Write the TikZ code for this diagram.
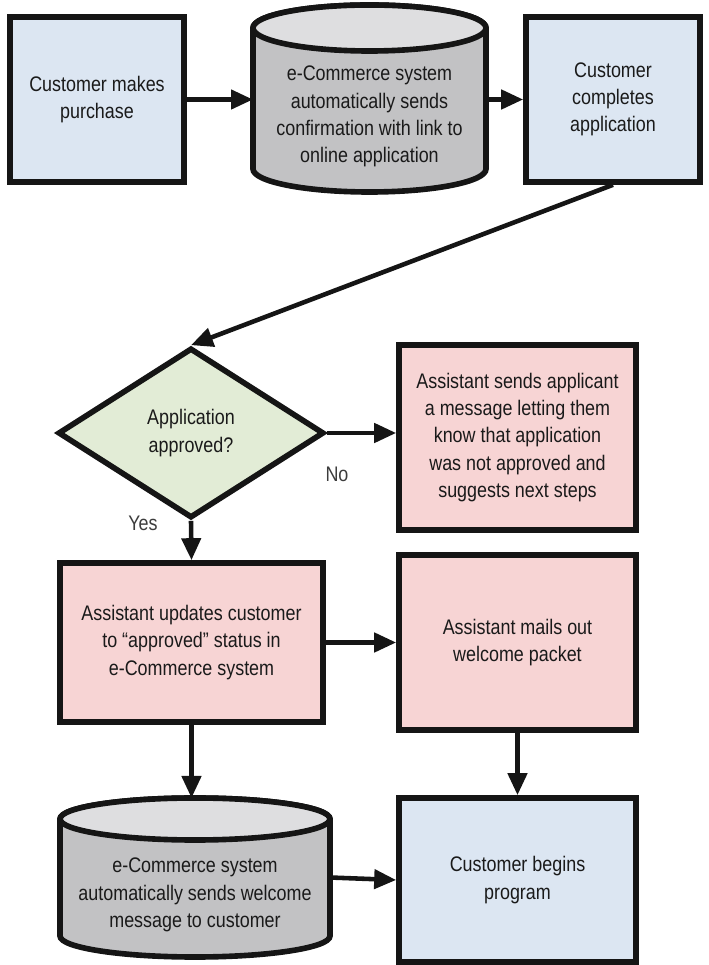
\documentclass[tikz,border=0pt]{standalone}
\usepackage{fontspec}
\setmainfont{Liberation Sans}[FakeStretch=0.85]
\usetikzlibrary{arrows.meta,shapes.geometric,calc,backgrounds}
\definecolor{boxblue}{HTML}{DCE6F2}
\definecolor{boxpink}{HTML}{F7D4D4}
\definecolor{boxgreen}{HTML}{E2ECD6}
\definecolor{cylbody}{HTML}{C2C2C4}
\definecolor{cyltop}{HTML}{DEDEE0}
\definecolor{edge}{HTML}{151515}
\definecolor{txt}{HTML}{1A1A1A}
\newcommand{\drawcyl}[2]{%
	\begin{scope}[on background layer]
		\draw[cylline,fill=cylbody] let \p1=(#1.north west),\p2=(#1.south east),\n1={(\x2-\x1)/2} in
		($(#1.north west)+(0,-#2)$) -- ($(#1.south west)+(0,#2)$)
		arc[start angle=180,end angle=360,x radius=\n1,y radius=#2]
		-- ($(#1.north east)+(0,-#2)$)
		arc[start angle=0,end angle=180,x radius=\n1,y radius=#2] -- cycle;
		\draw[cylline,fill=cyltop] let \p1=(#1.north west),\p2=(#1.south east),\n1={(\x2-\x1)/2} in
		($(#1.north)+(0,-#2)$) ellipse[x radius=\n1,y radius=#2];
	\end{scope}}
\begin{document}
\begin{tikzpicture}[>={Triangle[length=0.44cm,width=0.38cm]},line join=miter,
		font=\fontsize{12}{15.5}\selectfont,text=txt,
		block/.style={rectangle,draw=edge,line width=3.2pt,align=center,inner sep=2pt},
		custbox/.style={block,fill=boxblue,minimum width=3.48cm,minimum height=3.3cm},
		staffbox/.style={block,fill=boxpink,minimum width=4.74cm},
		decision/.style={diamond,draw=edge,line width=3.2pt,fill=boxgreen,align=center,
			inner sep=0pt,minimum width=5.32cm,minimum height=3.4cm},
		cyl/.style={rectangle,inner sep=0pt,outer sep=0pt},
		cylline/.style={draw=edge,line width=3.2pt},
		flow/.style={->,draw=edge,line width=2.6pt},
		lbl/.style={text=txt!85,font=\fontsize{12}{14}\selectfont}]
	\useasboundingbox (0,0) rectangle (14.18,19.3);
	\node[custbox] (buy) at (1.94,17.31) {Customer makes\\purchase};
	\node[cyl,minimum width=4.66cm,minimum height=3.74cm] (sys1) at (7.39,17.33)
		{\parbox[c][3.74cm][c]{4.6cm}{\centering\vspace*{0.72cm}e-Commerce system\\automatically sends\\confirmation with link to\\online application}};
	\node[custbox] (apply) at (12.26,17.31) {Customer\\completes\\application};
	\node[decision] (dec) at (3.82,10.64) {Application\\approved?};
	\node[staffbox,minimum height=3.7cm] (reject) at (10.35,10.55)
		{Assistant sends applicant\\a message letting them\\know that application\\was not approved and\\suggests next steps};
	\node[staffbox,minimum width=5.26cm,minimum height=3.18cm] (update) at (3.83,6.45)
		{Assistant updates customer\\to ``approved'' status in\\e-Commerce system};
	\node[staffbox,minimum height=3.5cm] (mail) at (10.35,6.45) {Assistant mails out\\welcome packet};
	\node[cyl,minimum width=5.4cm,minimum height=3.18cm] (sys2) at (3.90,1.75)
		{\parbox[c][3.18cm][c]{5.3cm}{\centering\vspace*{0.7cm}e-Commerce system\\automatically sends welcome\\message to customer}};
	\node[custbox,minimum width=4.74cm,minimum height=3.28cm] (begin) at (10.35,1.70) {Customer begins\\program};
	\drawcyl{sys1}{0.46cm}
	\drawcyl{sys2}{0.42cm}
	\node[lbl] (nolbl) at (6.74,9.82) {No};
	\node[lbl] (yeslbl) at (2.86,8.84) {Yes};
	\draw[flow] (buy.east) -- (buy.east -| sys1.west);
	\draw[flow] (sys1.east |- apply.west) -- (apply.west);
	\draw[flow] (apply.south) -- (dec.north);
	\draw[flow] (dec.east) -- (dec.east -| reject.west);
	\draw[flow] (dec.south) -- (update.north);
	\draw[flow] (update.east) -- (mail.west);
	\draw[flow] (update.south) -- (update.south |- sys2.north);
	\draw[flow] (mail.south) -- (begin.north);
	\draw[flow] (sys2.east) -- (begin.west);
\end{tikzpicture}
\end{document}
